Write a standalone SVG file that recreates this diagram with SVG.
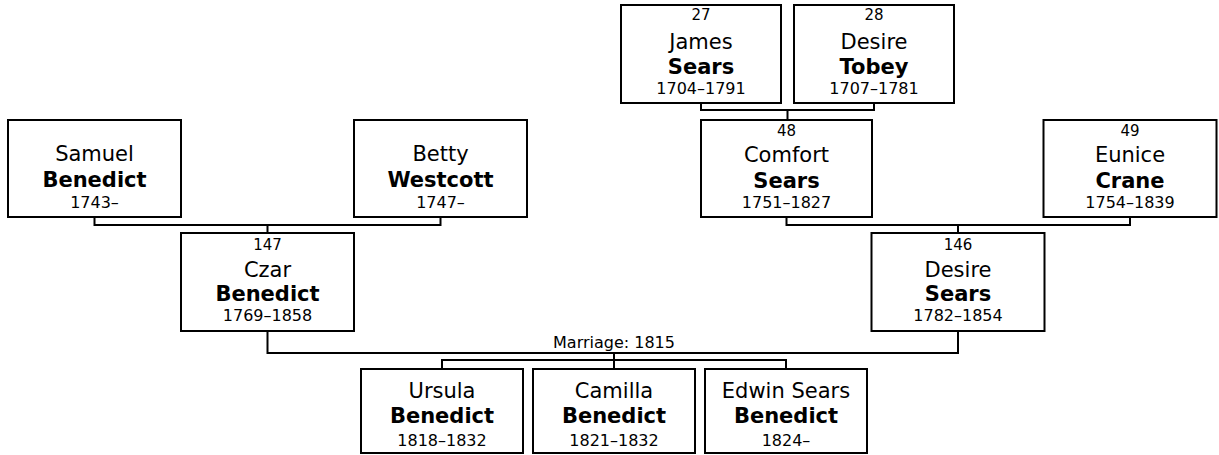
<svg xmlns="http://www.w3.org/2000/svg" width="1219" height="455" viewBox="0 0 1219 455">
<style>
.box{fill:#fff;stroke:#000;stroke-width:2}
.con{fill:none;stroke:#000;stroke-width:2}
text{font-family:"DejaVu Sans",Verdana,sans-serif;fill:#000;text-anchor:middle}
.nm{font-size:21px}
.sn{font-size:21px;font-weight:bold}
.sm{font-size:15px}
.yr{font-size:16px}
</style>
<rect width="1219" height="455" fill="#fff"/>
<g id="connectors">
<path class="con" d="M701,103V110H874V103M787.5,110V120"/>
<path class="con" d="M94.5,217V225H440.5V217M267.5,225V233"/>
<path class="con" d="M786.5,217V225H1130V217M958,225V233"/>
<path class="con" d="M267.5,331V353H958V331M614,353V360M442,369V360H786V369M614,360V369"/>
<text class="yr" x="614" y="348">Marriage: 1815</text>
</g>
<g id="james">
<rect class="box" x="621" y="5" width="160" height="98"/>
<text class="sm" x="701" y="20">27</text>
<text class="nm" x="701" y="48.5">James</text>
<text class="sn" x="701" y="73.5">Sears</text>
<text class="yr" x="701" y="94">1704–1791</text>
</g>
<g id="desire-tobey">
<rect class="box" x="794" y="5" width="160" height="98"/>
<text class="sm" x="874" y="20">28</text>
<text class="nm" x="874" y="48.5">Desire</text>
<text class="sn" x="874" y="73.5">Tobey</text>
<text class="yr" x="874" y="94">1707–1781</text>
</g>
<g id="samuel">
<rect class="box" x="8" y="120" width="173" height="97"/>
<text class="nm" x="94.5" y="161">Samuel</text>
<text class="sn" x="94.5" y="187">Benedict</text>
<text class="yr" x="94.5" y="208">1743–</text>
</g>
<g id="betty">
<rect class="box" x="354" y="120" width="173" height="97"/>
<text class="nm" x="440.5" y="161">Betty</text>
<text class="sn" x="440.5" y="187">Westcott</text>
<text class="yr" x="440.5" y="208">1747–</text>
</g>
<g id="comfort">
<rect class="box" x="701" y="120" width="171" height="97"/>
<text class="sm" x="786.5" y="136">48</text>
<text class="nm" x="786.5" y="162">Comfort</text>
<text class="sn" x="786.5" y="187.5">Sears</text>
<text class="yr" x="786.5" y="207.5">1751–1827</text>
</g>
<g id="eunice">
<rect class="box" x="1043.5" y="120" width="173" height="97"/>
<text class="sm" x="1130" y="136">49</text>
<text class="nm" x="1130" y="162">Eunice</text>
<text class="sn" x="1130" y="187.5">Crane</text>
<text class="yr" x="1130" y="207.5">1754–1839</text>
</g>
<g id="czar">
<rect class="box" x="181" y="233" width="173" height="98"/>
<text class="sm" x="267.5" y="249.5">147</text>
<text class="nm" x="267.5" y="276.5">Czar</text>
<text class="sn" x="267.5" y="301">Benedict</text>
<text class="yr" x="267.5" y="321">1769–1858</text>
</g>
<g id="desire-sears">
<rect class="box" x="871.5" y="233" width="173" height="98"/>
<text class="sm" x="958" y="249.5">146</text>
<text class="nm" x="958" y="276.5">Desire</text>
<text class="sn" x="958" y="301">Sears</text>
<text class="yr" x="958" y="321">1782–1854</text>
</g>
<g id="ursula">
<rect class="box" x="361" y="369" width="162" height="84"/>
<text class="nm" x="442" y="397.5">Ursula</text>
<text class="sn" x="442" y="423">Benedict</text>
<text class="yr" x="442" y="446">1818–1832</text>
</g>
<g id="camilla">
<rect class="box" x="533" y="369" width="162" height="84"/>
<text class="nm" x="614" y="397.5">Camilla</text>
<text class="sn" x="614" y="423">Benedict</text>
<text class="yr" x="614" y="446">1821–1832</text>
</g>
<g id="edwin">
<rect class="box" x="705" y="369" width="162" height="84"/>
<text class="nm" x="786" y="397.5">Edwin Sears</text>
<text class="sn" x="786" y="423">Benedict</text>
<text class="yr" x="786" y="446">1824–</text>
</g>
</svg>
